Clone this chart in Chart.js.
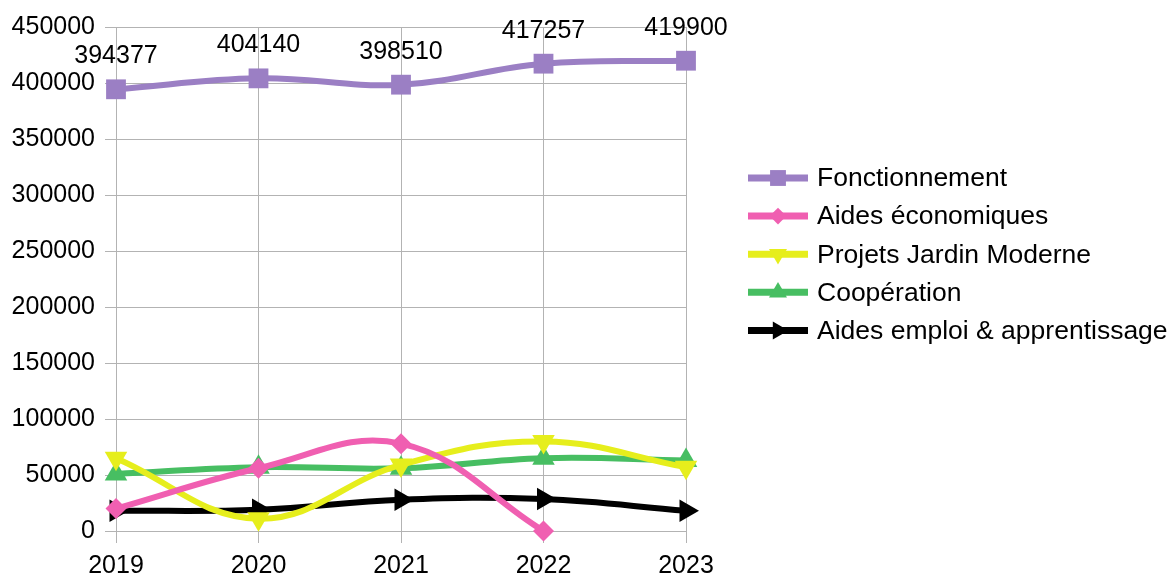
<!DOCTYPE html>
<html>
<head>
<meta charset="utf-8">
<script src="https://cdn.jsdelivr.net/npm/chart.js@4/dist/chart.umd.min.js"></script>
<style>
  html, body { margin: 0; padding: 0; background: #ffffff; }
  #wrap { width: 1172px; height: 577px; }
</style>
</head>
<body>
<div id="wrap"><canvas id="c" width="1172" height="577"></canvas></div>
<script>
// Budget lines per year
const years = ['2019', '2020', '2021', '2022', '2023'];
const fonctionnement = [394377, 404140, 398510, 417257, 419900];
const aidesEconomiques = [20000, 56000, 78000, 0, null];
const projetsJardin = [65000, 11000, 59000, 80000, 57000];
const cooperation = [51000, 57000, 56000, 65000, 63000];
const aidesEmploi = [18000, 19000, 28000, 28500, 18000];

const seriesNames = ['Fonctionnement', 'Aides économiques', 'Projets Jardin Moderne', 'Coopération', 'Aides emploi & apprentissage'];
const yTickMax = 450000;
const yTickStep = 50000;

const FONT = "'Liberation Sans', Arial, sans-serif";
const FONT_SIZE = 25;
const LEGEND_FONT_SIZE = 26.5;

function series(label, data, color, pointStyle, rotation, radius) {
  return {
    label, data,
    borderColor: color,
    backgroundColor: color,
    borderWidth: 6,
    pointStyle,
    rotation,
    pointRadius: radius,
    pointHoverRadius: radius,
    pointBorderWidth: 0,
    tension: 0.4,
    clip: false,
    spanGaps: false
  };
}

const datasets = [
  series(seriesNames[0], fonctionnement, '#9b7fc4', 'rect', 0, 14),
  series(seriesNames[1], aidesEconomiques, '#f05fb1', 'rectRot', 0, 10.5),
  series(seriesNames[2], projetsJardin, '#e6ee1c', 'triangle', 180, 13),
  series(seriesNames[3], cooperation, '#47be62', 'triangle', 0, 13),
  series(seriesNames[4], aidesEmploi, '#000000', 'triangle', 90, 13)
];

// Value labels above the first series
const valueLabels = {
  id: 'valueLabels',
  afterDatasetsDraw(chart) {
    const ctx = chart.ctx;
    const meta = chart.getDatasetMeta(0);
    ctx.save();
    ctx.font = FONT_SIZE + 'px ' + FONT;
    ctx.fillStyle = '#000';
    ctx.textAlign = 'center';
    ctx.textBaseline = 'middle';
    meta.data.forEach((pt, i) => {
      ctx.fillText(String(chart.data.datasets[0].data[i]), pt.x, pt.y - 33);
    });
    ctx.restore();
  }
};

// Legend: line sample with a smaller marker, then the series name
const sideLegend = {
  id: 'sideLegend',
  afterDraw(chart) {
    const ctx = chart.ctx;
    const x0 = 748, x1 = 808, textX = 817;
    const top = 178, gap = 38.1;
    ctx.save();
    chart.data.datasets.forEach((ds, i) => {
      const y = top + i * gap;
      ctx.strokeStyle = ds.borderColor;
      ctx.lineWidth = 7;
      ctx.beginPath();
      ctx.moveTo(x0, y);
      ctx.lineTo(x1, y);
      ctx.stroke();
      ctx.fillStyle = ds.backgroundColor;
      Chart.helpers.drawPoint(ctx, {
        pointStyle: ds.pointStyle,
        rotation: ds.rotation,
        radius: ds.pointRadius * 0.8,
        borderWidth: 0
      }, (x0 + x1) / 2, y);
      ctx.fillStyle = '#000';
      ctx.font = LEGEND_FONT_SIZE + 'px ' + FONT;
      ctx.textAlign = 'left';
      ctx.textBaseline = 'middle';
      ctx.fillText(ds.label, textX, y + 1);
    });
    ctx.restore();
  }
};

new Chart(document.getElementById('c'), {
  type: 'line',
  data: { labels: years, datasets },
  plugins: [valueLabels, sideLegend],
  options: {
    responsive: false,
    animation: false,
    devicePixelRatio: 1,
    layout: { padding: { top: 27, right: 486, left: 0, bottom: 0 } },
    plugins: { legend: { display: false }, tooltip: { enabled: false } },
    scales: {
      x: {
        offset: false,
        grid: { color: '#b3b3b3', lineWidth: 1, tickLength: 12, drawTicks: true },
        border: { display: false },
        ticks: { color: '#000', font: { family: FONT, size: FONT_SIZE }, padding: 8, maxRotation: 0 },
        afterFit(scale) { scale.height = 46; }
      },
      y: {
        min: 0,
        max: yTickMax,
        grid: { color: '#b3b3b3', lineWidth: 1, tickLength: 11 },
        border: { display: false },
        ticks: {
          stepSize: yTickStep,
          color: '#000',
          font: { family: FONT, size: FONT_SIZE },
          padding: 10,
          callback: (v) => String(v)
        },
        afterFit(scale) { scale.width = 116; }
      }
    }
  }
});
</script>
</body>
</html>
